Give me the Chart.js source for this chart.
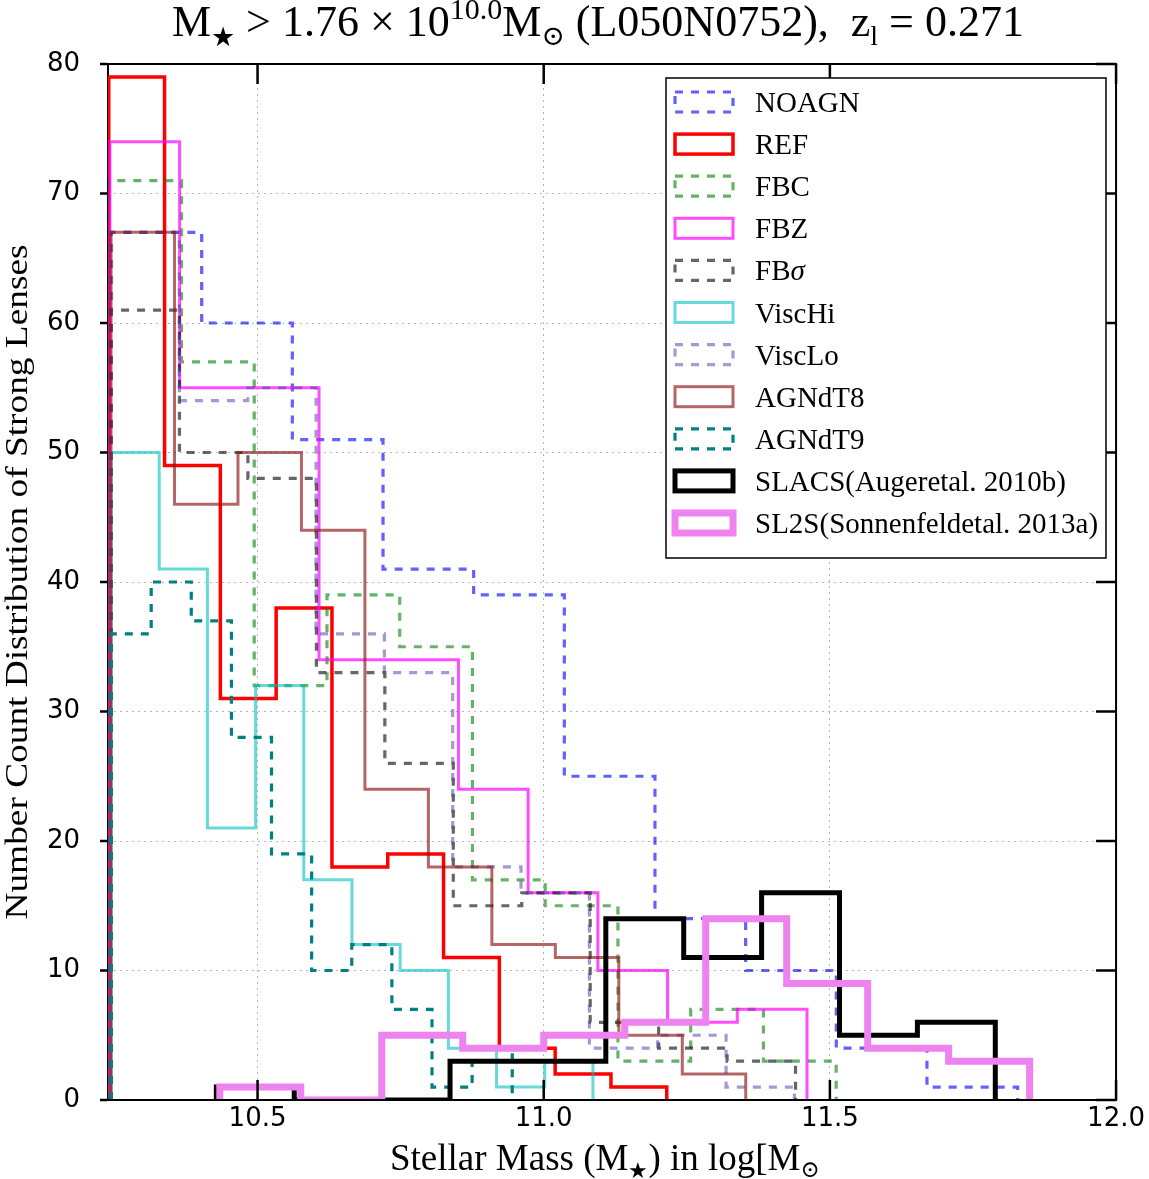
<!DOCTYPE html>
<html>
<head>
<meta charset="utf-8">
<script src="https://cdn.jsdelivr.net/npm/chart.js@4.4.1/dist/chart.umd.min.js"></script>
<style>
  html, body { margin: 0; padding: 0; background: #fff; }
</style>
</head>
<body>
<canvas id="lensChart" width="1149" height="1179"></canvas>
<script>
// counts per bin (10 bins each)
const noagn  = [67, 60, 51, 41, 39, 25, 14, 10, 4, 1];
const ref    = [79, 49, 31, 38, 18, 19, 11, 4, 2, 1];
const fbc    = [71, 57, 32, 39, 35, 17, 15, 3, 7, 3];
const fbz    = [74, 55, 55, 34, 34, 24, 16, 10, 6, 7];
const fbsig  = [61, 50, 48, 33, 26, 15, 16, 6, 4, 3];
const vischi = [50, 41, 21, 32, 17, 12, 10, 4, 1, 3];
const visclo = [67, 54, 55, 36, 33, 18, 16, 4, 5, 1];
const agndt8 = [67, 46, 50, 44, 24, 18, 12, 11, 5, 2];
const agndt9 = [36, 40, 37, 28, 19, 10, 12, 7, 1, 4];
const slacs  = [1, 0, 0, 3, 3, 14, 11, 16, 5, 6];
const sl2s   = [1, 0, 5, 4, 5, 6, 14, 9, 4, 3];

// histogram range (log M*) of each sample
const noagnRange  = [10.244, 11.828];
const refRange    = [10.240, 11.215];
const fbcRange    = [10.240, 11.511];
const fbzRange    = [10.242, 11.460];
const fbsigRange  = [10.244, 11.440];
const vischiRange = [10.244, 11.086];
const viscloRange = [10.244, 11.438];
const agndt8Range = [10.244, 11.353];
const agndt9Range = [10.244, 10.945];
const slacsRange  = [10.428, 11.789];
const sl2sRange   = [10.434, 11.849];

const labels = ["NOAGN", "REF", "FBC", "FBZ", "FB\u03c3", "ViscHi", "ViscLo",
                "AGNdT8", "AGNdT9", "SLACS(Augeretal. 2010b)", "SL2S(Sonnenfeldetal. 2013a)"];
const xTicks = [10.5, 11.0, 11.5, 12.0];
const yTicks = [0, 10, 20, 30, 40, 50, 60, 70, 80];

// outline of a step histogram, like histtype='step'
function stepPoints(range, counts) {
  const lo = range[0], hi = range[1];
  const w = (hi - lo) / counts.length;
  const pts = [{ x: lo, y: 0 }];
  counts.forEach((c, i) => {
    pts.push({ x: lo + i * w, y: c });
    pts.push({ x: lo + (i + 1) * w, y: c });
  });
  pts.push({ x: hi, y: 0 });
  return pts;
}

const DASH = [8, 8];
const series = [
  { counts: noagn,  range: noagnRange,  color: "rgba(0,0,255,0.62)",    width: 3.2, dash: DASH },
  { counts: ref,    range: refRange,    color: "#ff0000",               width: 3.5, dash: [] },
  { counts: fbc,    range: fbcRange,    color: "rgba(0,128,0,0.6)",     width: 3.2, dash: DASH },
  { counts: fbz,    range: fbzRange,    color: "rgba(255,0,255,0.7)",   width: 3,   dash: [] },
  { counts: fbsig,  range: fbsigRange,  color: "rgba(0,0,0,0.6)",       width: 3.2, dash: DASH },
  { counts: vischi, range: vischiRange, color: "rgba(0,191,191,0.6)",   width: 3,   dash: [] },
  { counts: visclo, range: viscloRange, color: "rgba(90,70,170,0.55)",  width: 3.2, dash: DASH },
  { counts: agndt8, range: agndt8Range, color: "rgba(140,20,20,0.65)",  width: 3,   dash: [] },
  { counts: agndt9, range: agndt9Range, color: "#008080",               width: 3.2, dash: DASH },
  { counts: slacs,  range: slacsRange,  color: "#000000",               width: 5,   dash: [] },
  { counts: sl2s,   range: sl2sRange,   color: "#ee82ee",               width: 7,   dash: [] }
];

const datasets = series.map((s, i) => ({
  label: labels[i],
  data: stepPoints(s.range, s.counts),
  borderColor: s.color,
  borderWidth: s.width,
  borderDash: s.dash,
  pointRadius: 0,
  fill: false,
  tension: 0,
  clip: 0,
  order: series.length - i
}));

const SERIF = "'Liberation Serif', 'DejaVu Serif', serif";

// draw text pieces with sub/superscripts
function richWidth(ctx, parts, size) {
  let w = 0;
  parts.forEach(p => {
    ctx.font = (p.italic ? "italic " : "") + Math.round(size * (p.scale || 1)) + "px " + SERIF;
    w += ctx.measureText(p.t).width;
  });
  return w;
}
function drawRich(ctx, parts, x, y, size) {
  parts.forEach(p => {
    ctx.font = (p.italic ? "italic " : "") + Math.round(size * (p.scale || 1)) + "px " + SERIF;
    ctx.fillText(p.t, x, y + (p.dy || 0) * size);
    x += ctx.measureText(p.t).width;
  });
}

const decor = {
  id: "decor",
  beforeDatasetsDraw(chart) {
    // left spine sits under the histograms
    const ctx = chart.ctx;
    const a = chart.chartArea;
    ctx.save();
    ctx.strokeStyle = "#000";
    ctx.lineWidth = 2;
    ctx.beginPath();
    ctx.moveTo(a.left, a.top);
    ctx.lineTo(a.left, a.bottom);
    ctx.stroke();
    ctx.restore();
  },
  afterDraw(chart) {
    const ctx = chart.ctx;
    const a = chart.chartArea;
    const xs = chart.scales.x, ys = chart.scales.y;
    ctx.save();

    // other spines, inward ticks (left side ticks point out)
    ctx.strokeStyle = "#000";
    ctx.lineWidth = 2;
    ctx.beginPath();
    ctx.moveTo(a.left - 1, a.top);
    ctx.lineTo(a.right, a.top);
    ctx.lineTo(a.right, a.bottom);
    ctx.lineTo(a.left - 1, a.bottom);
    ctx.stroke();
    ctx.lineWidth = 2.5;
    ctx.beginPath();
    xTicks.forEach(v => {
      const px = xs.getPixelForValue(v);
      ctx.moveTo(px, a.bottom); ctx.lineTo(px, a.bottom - 20);
      ctx.moveTo(px, a.top); ctx.lineTo(px, a.top + 20);
    });
    yTicks.forEach(v => {
      const py = ys.getPixelForValue(v);
      ctx.moveTo(a.right, py); ctx.lineTo(a.right - 20, py);
      ctx.moveTo(a.left - 1, py); ctx.lineTo(a.left - 8, py);
    });
    ctx.stroke();

    ctx.fillStyle = "#000";
    ctx.textBaseline = "alphabetic";
    ctx.textAlign = "left";

    // title
    const title = [
      { t: "M" }, { t: "\u2605", scale: 0.6, dy: 0.22 },
      { t: " > 1.76 \u00d7 10" }, { t: "10.0", scale: 0.68, dy: -0.38 },
      { t: "M" }, { t: "\u2299", scale: 0.62, dy: 0.2 },
      { t: " (L050N0752),  z" }, { t: "l", scale: 0.62, dy: 0.2 },
      { t: " = 0.271" }
    ];
    let size = 38;
    size *= 860 / richWidth(ctx, title, size);
    drawRich(ctx, title, 172, 36, size);

    // x axis title
    const xt = [
      { t: "Stellar Mass (M" }, { t: "\u2605", scale: 0.6, dy: 0.22 },
      { t: ") in log[M" }, { t: "\u2299", scale: 0.62, dy: 0.2 }
    ];
    size = 33;
    size *= 428 / richWidth(ctx, xt, size);
    drawRich(ctx, xt, 390, 1170, size);

    // y axis title
    ctx.save();
    ctx.translate(27, 582);
    ctx.rotate(-Math.PI / 2);
    ctx.textAlign = "center";
    ctx.font = "32px " + SERIF;
    const yt = "Number Count Distribution of Strong Lenses";
    const yw = ctx.measureText(yt).width;
    ctx.scale(675 / yw, 1);
    ctx.fillText(yt, 0, 0);
    ctx.restore();

    // legend
    ctx.fillStyle = "#fff";
    ctx.fillRect(666, 78, 440, 480);
    ctx.strokeStyle = "#000";
    ctx.lineWidth = 1.5;
    ctx.strokeRect(666, 78, 440, 480);
    series.forEach((s, i) => {
      const cy = 102 + i * 42.1;
      ctx.save();
      ctx.strokeStyle = s.color;
      ctx.lineWidth = s.width;
      ctx.setLineDash(s.dash);
      ctx.strokeRect(675, cy - 10, 58, 20);
      ctx.restore();
      ctx.fillStyle = "#000";
      ctx.font = "29px " + SERIF;
      if (labels[i] === "FB\u03c3") {
        ctx.fillText("FB", 755, cy + 10);
        const w = ctx.measureText("FB").width;
        ctx.font = "italic 29px " + SERIF;
        ctx.fillText("\u03c3", 755 + w, cy + 10);
      } else {
        ctx.fillText(labels[i], 755, cy + 10);
      }
    });
    ctx.restore();
  }
};

new Chart(document.getElementById("lensChart"), {
  type: "line",
  data: { datasets: datasets },
  plugins: [decor],
  options: {
    responsive: false,
    animation: false,
    devicePixelRatio: 1,
    layout: { padding: { top: 64, right: 29, bottom: 0, left: 0 } },
    plugins: { legend: { display: false }, tooltip: { enabled: false } },
    scales: {
      x: {
        type: "linear",
        min: 10.2387,
        max: 12.0,
        afterBuildTicks: s => { s.ticks = xTicks.map(v => ({ value: v })); },
        afterFit: s => { s.height = 79; },
        ticks: {
          color: "#000",
          padding: 4,
          maxRotation: 0,
          font: { family: "'DejaVu Sans'", size: 26 },
          callback: v => v.toFixed(1)
        },
        grid: { color: "#b5b5b5", lineWidth: 1, drawTicks: false },
        border: { display: false, dash: [2, 4] }
      },
      y: {
        min: 0,
        max: 80,
        afterBuildTicks: s => { s.ticks = yTicks.map(v => ({ value: v })); },
        afterFit: s => { s.width = 108; },
        ticks: {
          color: "#000",
          padding: 28,
          font: { family: "'DejaVu Sans'", size: 26 }
        },
        grid: { color: "#b5b5b5", lineWidth: 1, drawTicks: false },
        border: { display: false, dash: [2, 4] }
      }
    }
  }
});
</script>
</body>
</html>
